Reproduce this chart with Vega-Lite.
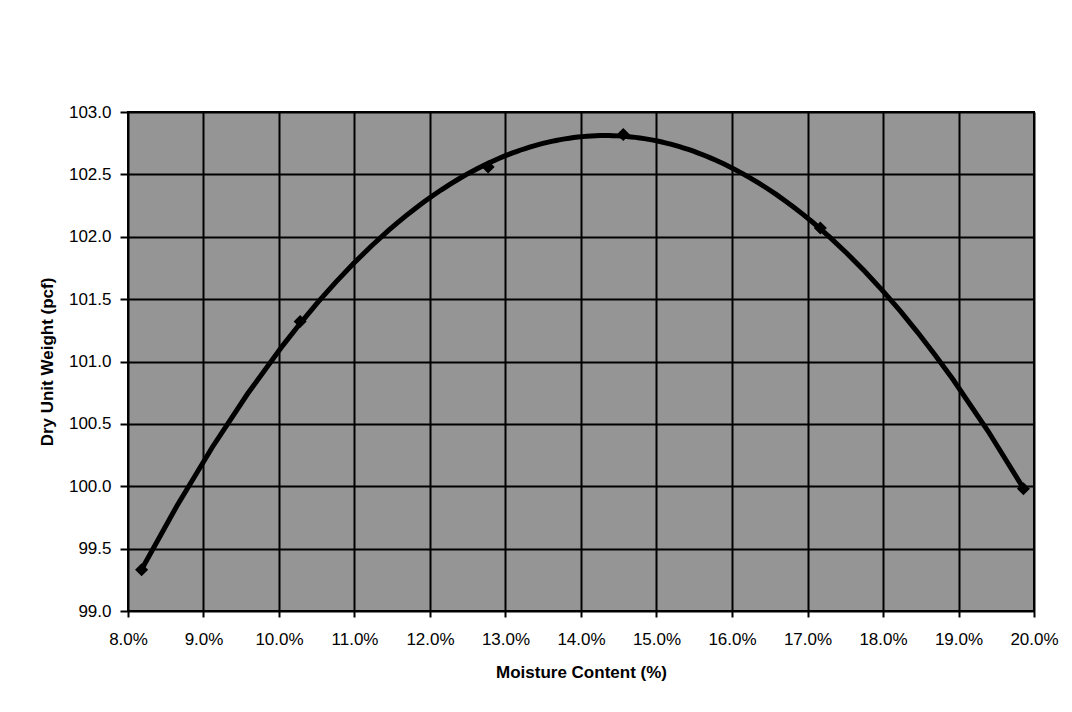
{
  "$schema": "https://vega.github.io/schema/vega-lite/v6.json",
  "width": 906,
  "height": 499,
  "autosize": {"type": "none"},
  "padding": {"left": 128, "top": 112, "right": 38, "bottom": 101},
  "background": "white",
  "config": {
    "font": "Liberation Sans",
    "view": {"fill": "#959595", "stroke": "black", "strokeWidth": 2},
    "axis": {
      "grid": true,
      "gridColor": "black",
      "gridWidth": 2,
      "gridOpacity": 1,
      "domain": false,
      "tickColor": "black",
      "tickWidth": 2,
      "labelColor": "black",
      "labelFont": "Liberation Sans",
      "labelFontSize": 17,
      "titleColor": "black",
      "titleFont": "Liberation Sans",
      "titleFontSize": 17,
      "titleFontWeight": "bold"
    }
  },
  "data": {
    "values": [
      {"mc": 0.0818, "dry": 99.33},
      {"mc": 0.1028, "dry": 101.32},
      {"mc": 0.1277, "dry": 102.56},
      {"mc": 0.1456, "dry": 102.82},
      {"mc": 0.1717, "dry": 102.07},
      {"mc": 0.1986, "dry": 99.98}
    ]
  },
  "encoding": {
    "x": {
      "field": "mc",
      "type": "quantitative",
      "scale": {"domain": [0.08, 0.2], "nice": false, "zero": false},
      "axis": {
        "title": "Moisture Content (%)",
        "format": ".1%",
        "values": [0.08, 0.09, 0.1, 0.11, 0.12, 0.13, 0.14, 0.15, 0.16, 0.17, 0.18, 0.19, 0.2],
        "tickSize": 6,
        "labelPadding": 14,
        "titlePadding": 17,
        "labelFlush": false
      }
    },
    "y": {
      "field": "dry",
      "type": "quantitative",
      "scale": {"domain": [99, 103], "nice": false, "zero": false},
      "axis": {
        "title": "Dry Unit Weight (pcf)",
        "format": ".1f",
        "values": [99, 99.5, 100, 100.5, 101, 101.5, 102, 102.5, 103],
        "tickSize": 8,
        "labelPadding": 9,
        "titlePadding": 12,
        "labelFlush": false
      }
    }
  },
  "layer": [
    {
      "transform": [
        {"regression": "dry", "on": "mc", "method": "poly", "order": 2}
      ],
      "mark": {"type": "line", "color": "black", "strokeWidth": 5, "clip": true}
    },
    {
      "mark": {"type": "point", "shape": "diamond", "filled": true, "color": "black", "size": 170, "opacity": 1}
    }
  ]
}
